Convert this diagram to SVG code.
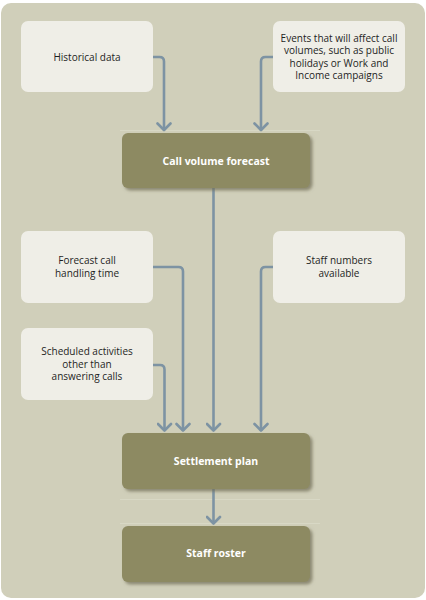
<svg xmlns="http://www.w3.org/2000/svg" width="426" height="600" viewBox="0 0 426 600">
<defs>
<filter id="sh" x="-10%" y="-20%" width="130%" height="150%">
<feDropShadow dx="2.5" dy="2.5" stdDeviation="1.8" flood-color="#6f6d55" flood-opacity="0.7"/>
</filter>
<marker id="arr" viewBox="0 0 10 16" refX="9" refY="8" markerWidth="10" markerHeight="16" markerUnits="userSpaceOnUse" orient="auto">
<path d="M2 1.5 L8.5 8 L2 14.5" fill="none" stroke="#7d93a3" stroke-width="2.6" stroke-linecap="round" stroke-linejoin="round"/>
</marker>
</defs>
<style>
.bg{fill:#d0cfba}
.lt{fill:#efeee7}
.dk{fill:#8d8a62;filter:url(#sh)}
.t{font-family:"Open Sans","Noto Sans","DejaVu Sans",sans-serif;font-size:10px;fill:#1e1e1e;text-anchor:middle}
.tb{font-family:"Open Sans","Noto Sans","DejaVu Sans",sans-serif;font-size:10.5px;font-weight:bold;fill:#ffffff;text-anchor:middle}
.c{fill:none;stroke:#7d93a3;stroke-width:2.6;marker-end:url(#arr)}
.g{stroke:#d8d8c5;stroke-width:1}
</style>
<rect class="bg" x="1" y="3" width="424" height="595" rx="10"/>
<g id="guides">
<line class="g" x1="120" y1="130.5" x2="320" y2="130.5"/>
<line class="g" x1="120" y1="499.5" x2="320" y2="499.5"/>
<line class="g" x1="120" y1="523.5" x2="320" y2="523.5"/>
</g>
<g id="connectors">
<path class="c" d="M153 57 H159.5 Q164 57 164 61.5 V130.5"/>
<path class="c" d="M273 57 H265.5 Q261 57 261 61.5 V130.5"/>
<path class="c" d="M213.5 188 V431"/>
<path class="c" d="M153 267 H178.5 Q183 267 183 271.5 V431"/>
<path class="c" d="M153 365 H160 Q164.5 365 164.5 369.5 V431"/>
<path class="c" d="M273 267 H265.5 Q261 267 261 271.5 V431"/>
<path class="c" d="M213.5 489 V524"/>
</g>
<g id="historical">
<rect class="lt" x="21" y="21" width="132" height="71" rx="7"/>
<text class="t" x="87" y="60.5">Historical data</text>
</g>
<g id="events">
<rect class="lt" x="273" y="21" width="132" height="71" rx="7"/>
<text class="t" x="339" y="41.5">Events that will affect call</text>
<text class="t" x="339" y="54">volumes, such as public</text>
<text class="t" x="339" y="66.5">holidays or Work and</text>
<text class="t" x="339" y="79">Income campaigns</text>
</g>
<g id="forecast">
<rect class="dk" x="122" y="133" width="188" height="55" rx="6"/>
<text class="tb" x="216" y="164.5">Call volume forecast</text>
</g>
<g id="handling">
<rect class="lt" x="21" y="231" width="132" height="72" rx="7"/>
<text class="t" x="87" y="263.5">Forecast call</text>
<text class="t" x="87" y="276.5">handling time</text>
</g>
<g id="staffnumbers">
<rect class="lt" x="273" y="231" width="132" height="72" rx="7"/>
<text class="t" x="339" y="263.5">Staff numbers</text>
<text class="t" x="339" y="276.5">available</text>
</g>
<g id="scheduled">
<rect class="lt" x="21" y="328" width="132" height="72" rx="7"/>
<text class="t" x="87" y="355">Scheduled activities</text>
<text class="t" x="87" y="367.5">other than</text>
<text class="t" x="87" y="380">answering calls</text>
</g>
<g id="settlement">
<rect class="dk" x="122" y="433" width="188" height="56" rx="6"/>
<text class="tb" x="216" y="464.5">Settlement plan</text>
</g>
<g id="roster">
<rect class="dk" x="122" y="526" width="188" height="56" rx="6"/>
<text class="tb" x="216" y="557">Staff roster</text>
</g>
</svg>
